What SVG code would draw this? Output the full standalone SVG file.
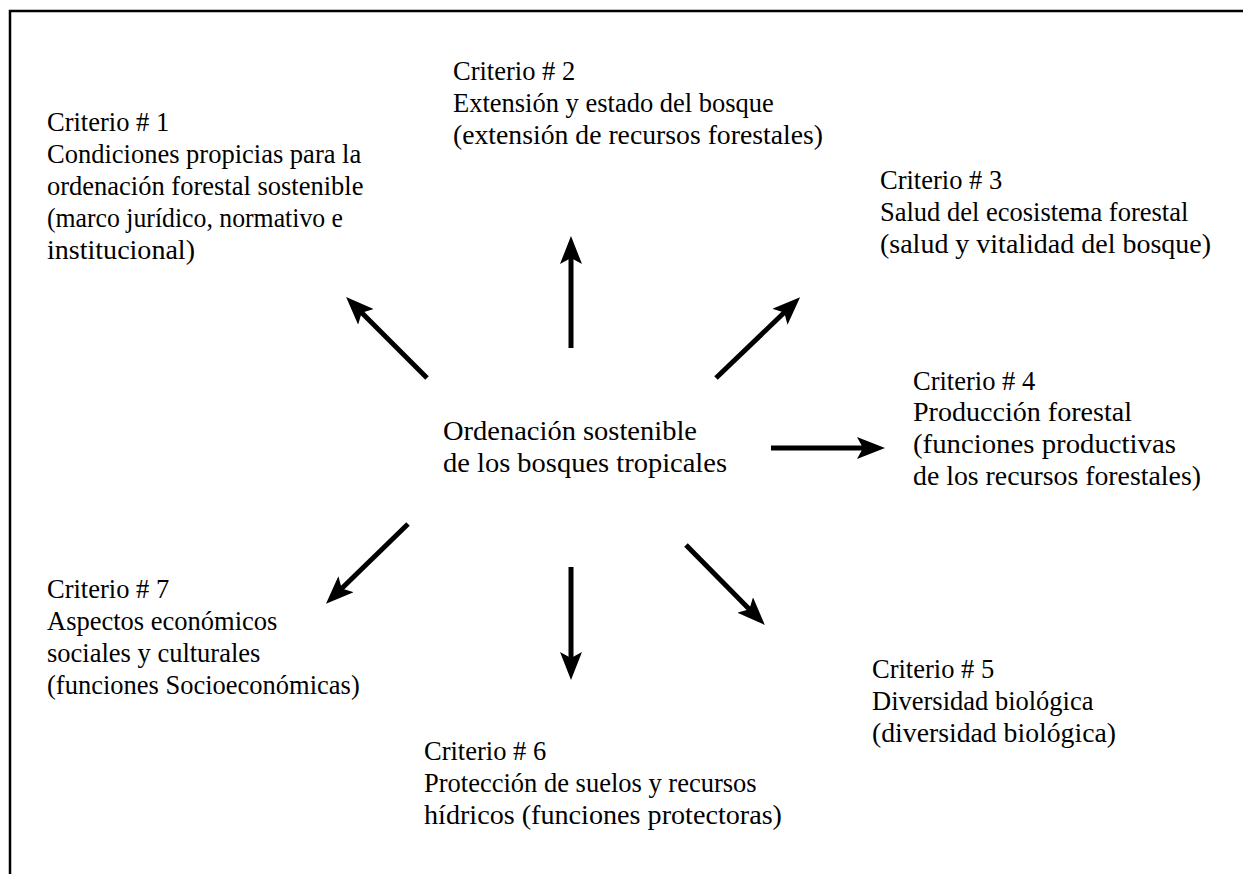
<svg xmlns="http://www.w3.org/2000/svg" width="1243" height="874" viewBox="0 0 1243 874">
<style>
text{font-family:"Liberation Serif","Times New Roman",serif;font-size:26.5px;fill:#000}
.frame{stroke:#000;stroke-width:2.5;fill:none}
.arr{stroke:#000;stroke-width:5;fill:none}
</style>
<defs>
<marker id="ah" markerUnits="userSpaceOnUse" viewBox="0 -11 28 22" refX="14" refY="0" markerWidth="28" markerHeight="22" orient="auto">
<path d="M28,0 L0,-11 L6,0 L0,11 Z" fill="#000"/>
</marker>
</defs>
<rect width="1243" height="874" fill="#fff"/>
<path class="frame" d="M10,874 L10,11 L1243,11"/>
<g id="center">
<text x="443" y="440" textLength="254" lengthAdjust="spacingAndGlyphs">Ordenación sostenible</text>
<text x="443" y="472" textLength="284" lengthAdjust="spacingAndGlyphs">de los bosques tropicales</text>
</g>
<g id="c1">
<text x="47" y="131">Criterio # 1</text>
<text x="47" y="163">Condiciones propicias para la</text>
<text x="47" y="195">ordenación forestal sostenible</text>
<text x="47" y="227" textLength="296" lengthAdjust="spacingAndGlyphs">(marco jurídico, normativo e</text>
<text x="47" y="259" textLength="148" lengthAdjust="spacingAndGlyphs">institucional)</text>
</g>
<g id="c2">
<text x="453" y="80">Criterio # 2</text>
<text x="453" y="112">Extensión y estado del bosque</text>
<text x="453" y="144" textLength="370" lengthAdjust="spacingAndGlyphs">(extensión de recursos forestales)</text>
</g>
<g id="c3">
<text x="880" y="189">Criterio # 3</text>
<text x="880" y="221">Salud del ecosistema forestal</text>
<text x="880" y="253" textLength="331" lengthAdjust="spacingAndGlyphs">(salud y vitalidad del bosque)</text>
</g>
<g id="c4">
<text x="913" y="390">Criterio # 4</text>
<text x="913" y="421" textLength="219" lengthAdjust="spacingAndGlyphs">Producción forestal</text>
<text x="913" y="453" textLength="263" lengthAdjust="spacingAndGlyphs">(funciones productivas</text>
<text x="913" y="485" textLength="288" lengthAdjust="spacingAndGlyphs">de los recursos forestales)</text>
</g>
<g id="c5">
<text x="872" y="678">Criterio # 5</text>
<text x="872" y="710">Diversidad biológica</text>
<text x="872" y="742" textLength="244" lengthAdjust="spacingAndGlyphs">(diversidad biológica)</text>
</g>
<g id="c6">
<text x="424" y="760">Criterio # 6</text>
<text x="424" y="792">Protección de suelos y recursos</text>
<text x="424" y="824" textLength="358" lengthAdjust="spacingAndGlyphs">hídricos (funciones protectoras)</text>
</g>
<g id="c7">
<text x="47" y="598">Criterio # 7</text>
<text x="47" y="630">Aspectos económicos</text>
<text x="47" y="662">sociales y culturales</text>
<text x="47" y="694">(funciones Socioeconómicas)</text>
</g>
<g id="connectors">
<line class="arr" x1="427" y1="378" x2="356" y2="307" marker-end="url(#ah)"/>
<line class="arr" x1="571" y1="348" x2="571" y2="250" marker-end="url(#ah)"/>
<line class="arr" x1="716" y1="378" x2="790" y2="307" marker-end="url(#ah)"/>
<line class="arr" x1="771" y1="448" x2="871" y2="448" marker-end="url(#ah)"/>
<line class="arr" x1="686" y1="545" x2="755" y2="615" marker-end="url(#ah)"/>
<line class="arr" x1="571" y1="567" x2="571" y2="666" marker-end="url(#ah)"/>
<line class="arr" x1="408" y1="524" x2="336" y2="594" marker-end="url(#ah)"/>
</g>
</svg>
